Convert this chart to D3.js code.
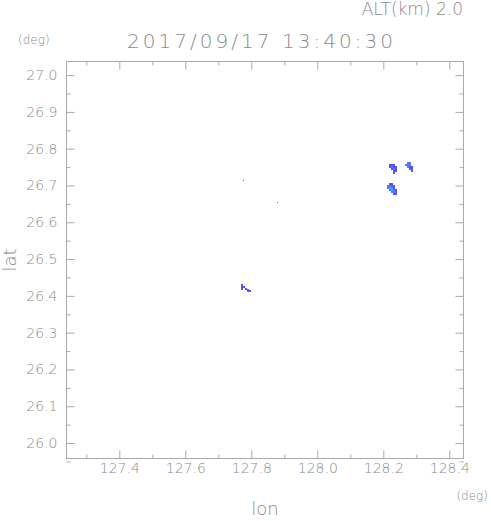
<!DOCTYPE html>
<html>
<head>
<meta charset="utf-8">
<script src="https://cdn.jsdelivr.net/npm/d3@7"></script>
<style>
  body { margin: 0; background: #fff; }
  svg { display: block; }
  text { font-family: "DejaVu Sans", sans-serif; font-weight: 200; fill: #8a8a8a; }
  .tick line { stroke: #aaa; }
</style>
</head>
<body>
<svg width="491" height="521"></svg>
<script>
// Chart size and plot frame
const width = 491;
const height = 521;
const margin = { top: 61.5, right: 27.5, bottom: 62.5, left: 66.5 };

// Axis ranges (deg)
const lonRange = [127.24, 128.443];
const latRange = [25.958, 27.037];

// Tick values
const lonMajor = [127.4, 127.6, 127.8, 128.0, 128.2, 128.4];
const lonMinor = [127.3, 127.5, 127.7, 127.9, 128.1, 128.3];
const latMajor = [26.0, 26.1, 26.2, 26.3, 26.4, 26.5, 26.6, 26.7, 26.8, 26.9, 27.0];
const latMinor = [25.95, 26.05, 26.15, 26.25, 26.35, 26.45, 26.55, 26.65, 26.75, 26.85, 26.95];

// Echo cells: [lon, lat, level]  (north-west corner of each grid cell)
const cellLon = 0.006;
const cellLat = 0.0055;
const echoCells = [
    // cluster near 128.23E 26.75N
    [128.217, 26.7581, 1], [128.223, 26.7581, 1], [128.229, 26.7581, 1],
    [128.217, 26.7527, 1], [128.223, 26.7527, 2], [128.229, 26.7527, 1], [128.235, 26.7527, 1],
    [128.223, 26.7473, 1], [128.229, 26.7473, 2], [128.235, 26.7473, 1],
    [128.229, 26.7418, 1], [128.235, 26.7418, 1],
    [128.229, 26.7364, 1],
    // cluster near 128.28E 26.75N
    [128.272, 26.7636, 2], [128.278, 26.7636, 2],
    [128.266, 26.7581, 2], [128.272, 26.7581, 2], [128.278, 26.7581, 2],
    [128.272, 26.7527, 2], [128.278, 26.7527, 1], [128.284, 26.7527, 1],
    [128.278, 26.7473, 1], [128.284, 26.7473, 1],
    [128.284, 26.7418, 1],
    // cluster near 128.23E 26.69N
    [128.217, 26.7065, 1], [128.223, 26.7065, 1],
    [128.211, 26.7011, 2], [128.217, 26.7011, 2], [128.223, 26.7011, 1], [128.229, 26.7011, 1],
    [128.211, 26.6957, 2], [128.217, 26.6957, 3], [128.223, 26.6957, 3], [128.229, 26.6957, 1],
    [128.217, 26.6902, 2], [128.223, 26.6902, 3], [128.229, 26.6902, 2], [128.235, 26.6902, 1],
    [128.223, 26.6848, 2], [128.229, 26.6848, 2], [128.235, 26.6848, 1],
    [128.229, 26.6793, 1], [128.235, 26.6793, 1],
    // small hook near 127.78E 26.42N
    [127.7688, 26.4321, 1], [127.7688, 26.4266, 1], [127.7748, 26.4266, 1],
    [127.7688, 26.4212, 1], [127.7809, 26.4212, 1],
    [127.7870, 26.4185, 1], [127.7870, 26.4158, 1], [127.7930, 26.4158, 1]
];

// Single-pixel echoes
const echoDots = [
    [127.7748, 26.7147, 1],
    [127.8779, 26.6549, 1]
];

const levels = [1, 2, 3];
const levelColors = ["#5a50ff", "#4d7dff", "#3a9eff"];

const svg = d3.select("svg");

const x = d3.scaleLinear()
    .domain(lonRange)
    .range([margin.left, width - margin.right]);

const y = d3.scaleLinear()
    .domain(latRange)
    .range([height - margin.bottom, margin.top]);

const color = d3.scaleOrdinal().domain(levels).range(levelColors);

// Echo cells
svg.append("g")
    .selectAll("rect")
    .data(echoCells)
    .enter()
    .append("rect")
    .attr("x", d => x(d[0]))
    .attr("y", d => y(d[1]))
    .attr("width", d => x(d[0] + cellLon) - x(d[0]))
    .attr("height", d => y(d[1] - cellLat) - y(d[1]))
    .attr("fill", d => color(d[2]))
    .attr("shape-rendering", "crispEdges");

svg.append("g")
    .selectAll("rect")
    .data(echoDots)
    .enter()
    .append("rect")
    .attr("x", d => x(d[0]))
    .attr("y", d => y(d[1]))
    .attr("width", 1)
    .attr("height", 1)
    .attr("fill", d => color(d[2]));

const plotBottom = height - margin.bottom;
const plotRight = width - margin.right;

// Axes with inward ticks on all sides
function addAxis(axis, transform, values, size, labels) {
    const g = svg.append("g")
        .attr("transform", transform)
        .call(axis.tickValues(values).tickSize(-size).tickPadding(labels ? labels.pad : 0)
            .tickFormat(labels ? d3.format(".1f") : ""));
    g.select(".domain").remove();
    g.selectAll("text")
        .attr("font-size", 14)
        .style("fill", "#8a8a8a");
    return g;
}

addAxis(d3.axisBottom(x), `translate(0,${plotBottom})`, lonMajor, 8, { pad: 5 });
addAxis(d3.axisBottom(x), `translate(0,${plotBottom})`, lonMinor, 4);
addAxis(d3.axisTop(x), `translate(0,${margin.top})`, lonMajor, 8);
addAxis(d3.axisTop(x), `translate(0,${margin.top})`, lonMinor, 4);
addAxis(d3.axisLeft(y), `translate(${margin.left},0)`, latMajor, 8, { pad: 9 });
addAxis(d3.axisLeft(y), `translate(${margin.left},0)`, latMinor, 4);
addAxis(d3.axisRight(y), `translate(${plotRight},0)`, latMajor, 8);
addAxis(d3.axisRight(y), `translate(${plotRight},0)`, latMinor, 4);

// Frame
svg.append("rect")
    .attr("x", margin.left)
    .attr("y", margin.top)
    .attr("width", plotRight - margin.left)
    .attr("height", plotBottom - margin.top)
    .attr("fill", "none")
    .attr("stroke", "#aaa");

// Titles and labels
svg.append("text")
    .attr("x", 463)
    .attr("y", 15)
    .attr("text-anchor", "end")
    .attr("font-size", 17)
    .text("ALT(km) 2.0");

svg.append("text")
    .attr("x", 127)
    .attr("y", 48)
    .attr("font-size", 20)
    .attr("textLength", 266)
    .text("2017/09/17 13:40:30");

svg.append("text")
    .attr("x", 18)
    .attr("y", 44)
    .attr("font-size", 12)
    .text("(deg)");

svg.append("text")
    .attr("x", 488)
    .attr("y", 500)
    .attr("text-anchor", "end")
    .attr("font-size", 12)
    .text("(deg)");

svg.append("text")
    .attr("x", 265)
    .attr("y", 515)
    .attr("text-anchor", "middle")
    .attr("font-size", 18)
    .text("lon");

svg.append("text")
    .attr("transform", "rotate(-90)")
    .attr("x", -260)
    .attr("y", 16)
    .attr("text-anchor", "middle")
    .attr("font-size", 18)
    .text("lat");
</script>
</body>
</html>
